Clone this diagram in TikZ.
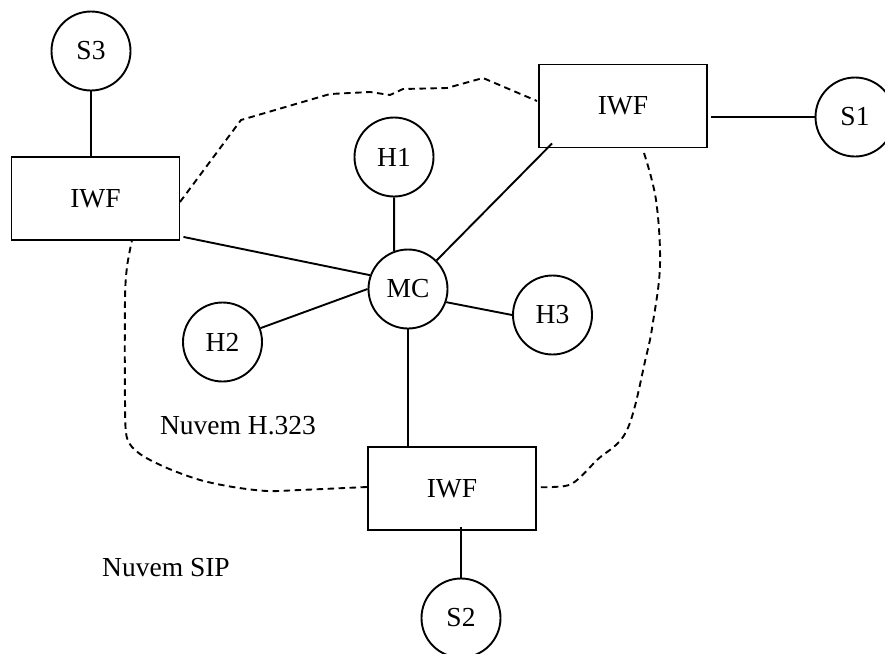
\documentclass[tikz,border=0pt]{standalone}
\usepackage{fontspec}
\setmainfont{Liberation Serif}
\begin{document}
\begin{tikzpicture}[x=1pt,y=-1pt,line width=1.9pt,
  every node/.style={font=\fontsize{27.5}{31}\selectfont},
  circ/.style={draw,circle,minimum size=79pt,inner sep=0pt},
  boxnode/.style={draw,rectangle,minimum width=168pt,minimum height=83pt,inner sep=0pt},
  cloud/.style={dash pattern=on 6.5pt off 4.5pt,line width=1.9pt},
  lbl/.style={inner sep=0pt}]
\useasboundingbox (0,0) rectangle (885,653);
% nodes
\node[circ] (s3) at (91,51) {S3};
\node[boxnode] (iwfL) at (95.5,198.5) {IWF};
\node[boxnode] (iwfTR) at (623,106) {IWF};
\node[circ] (s1) at (855,117) {S1};
\node[circ] (h1) at (394,157) {H1};
\node[circ] (mc) at (408,289) {MC};
\node[circ] (h3) at (552.5,315) {H3};
\node[circ] (h2) at (222.5,342) {H2};
\node[boxnode] (iwfB) at (452,488.5) {IWF};
\node[circ] (s2) at (461,618) {S2};
\node[lbl] (n323) at (238,426) {Nuvem H.323};
\node[lbl] (nsip) at (166,568) {Nuvem SIP};
% connectors
\draw (s3) -- (s3 |- iwfL.north);
\draw ([xshift=3pt,yshift=4pt]iwfL.south east) -- (mc.160);
\draw (h1) -- (mc.110);
\draw (mc.45) -- ([xshift=14pt,yshift=5pt]iwfTR.south west);
\draw ([xshift=3pt]iwfTR.east |- s1) -- (s1);
\draw (mc.-19) -- (h3.west);
\draw (h2) -- (mc.west);
\draw (mc) -- (mc |- iwfB.north);
\draw ([yshift=4pt]s2 |- iwfB.south) -- (s2);
% cloud boundary
\draw[cloud] (180,202) -- (241,120) -- (330,94) -- (370,92) -- (390,95) -- (403,89) -- (447,88) -- (483,78) -- (537,101);
\draw[cloud] plot[smooth,tension=0.6] coordinates {(644,153) (656,200) (660,265) (653,322) (646,357) (627,430) (597,460) (573,483) (553,487) (537,487)};
\draw[cloud] plot[smooth,tension=0.5] coordinates {(367,487) (300,490) (267,491) (233,487) (200,480) (167,468) (140,454) (127,438) (125,400) (125,300) (127,267) (132,240)};
\end{tikzpicture}
\end{document}
